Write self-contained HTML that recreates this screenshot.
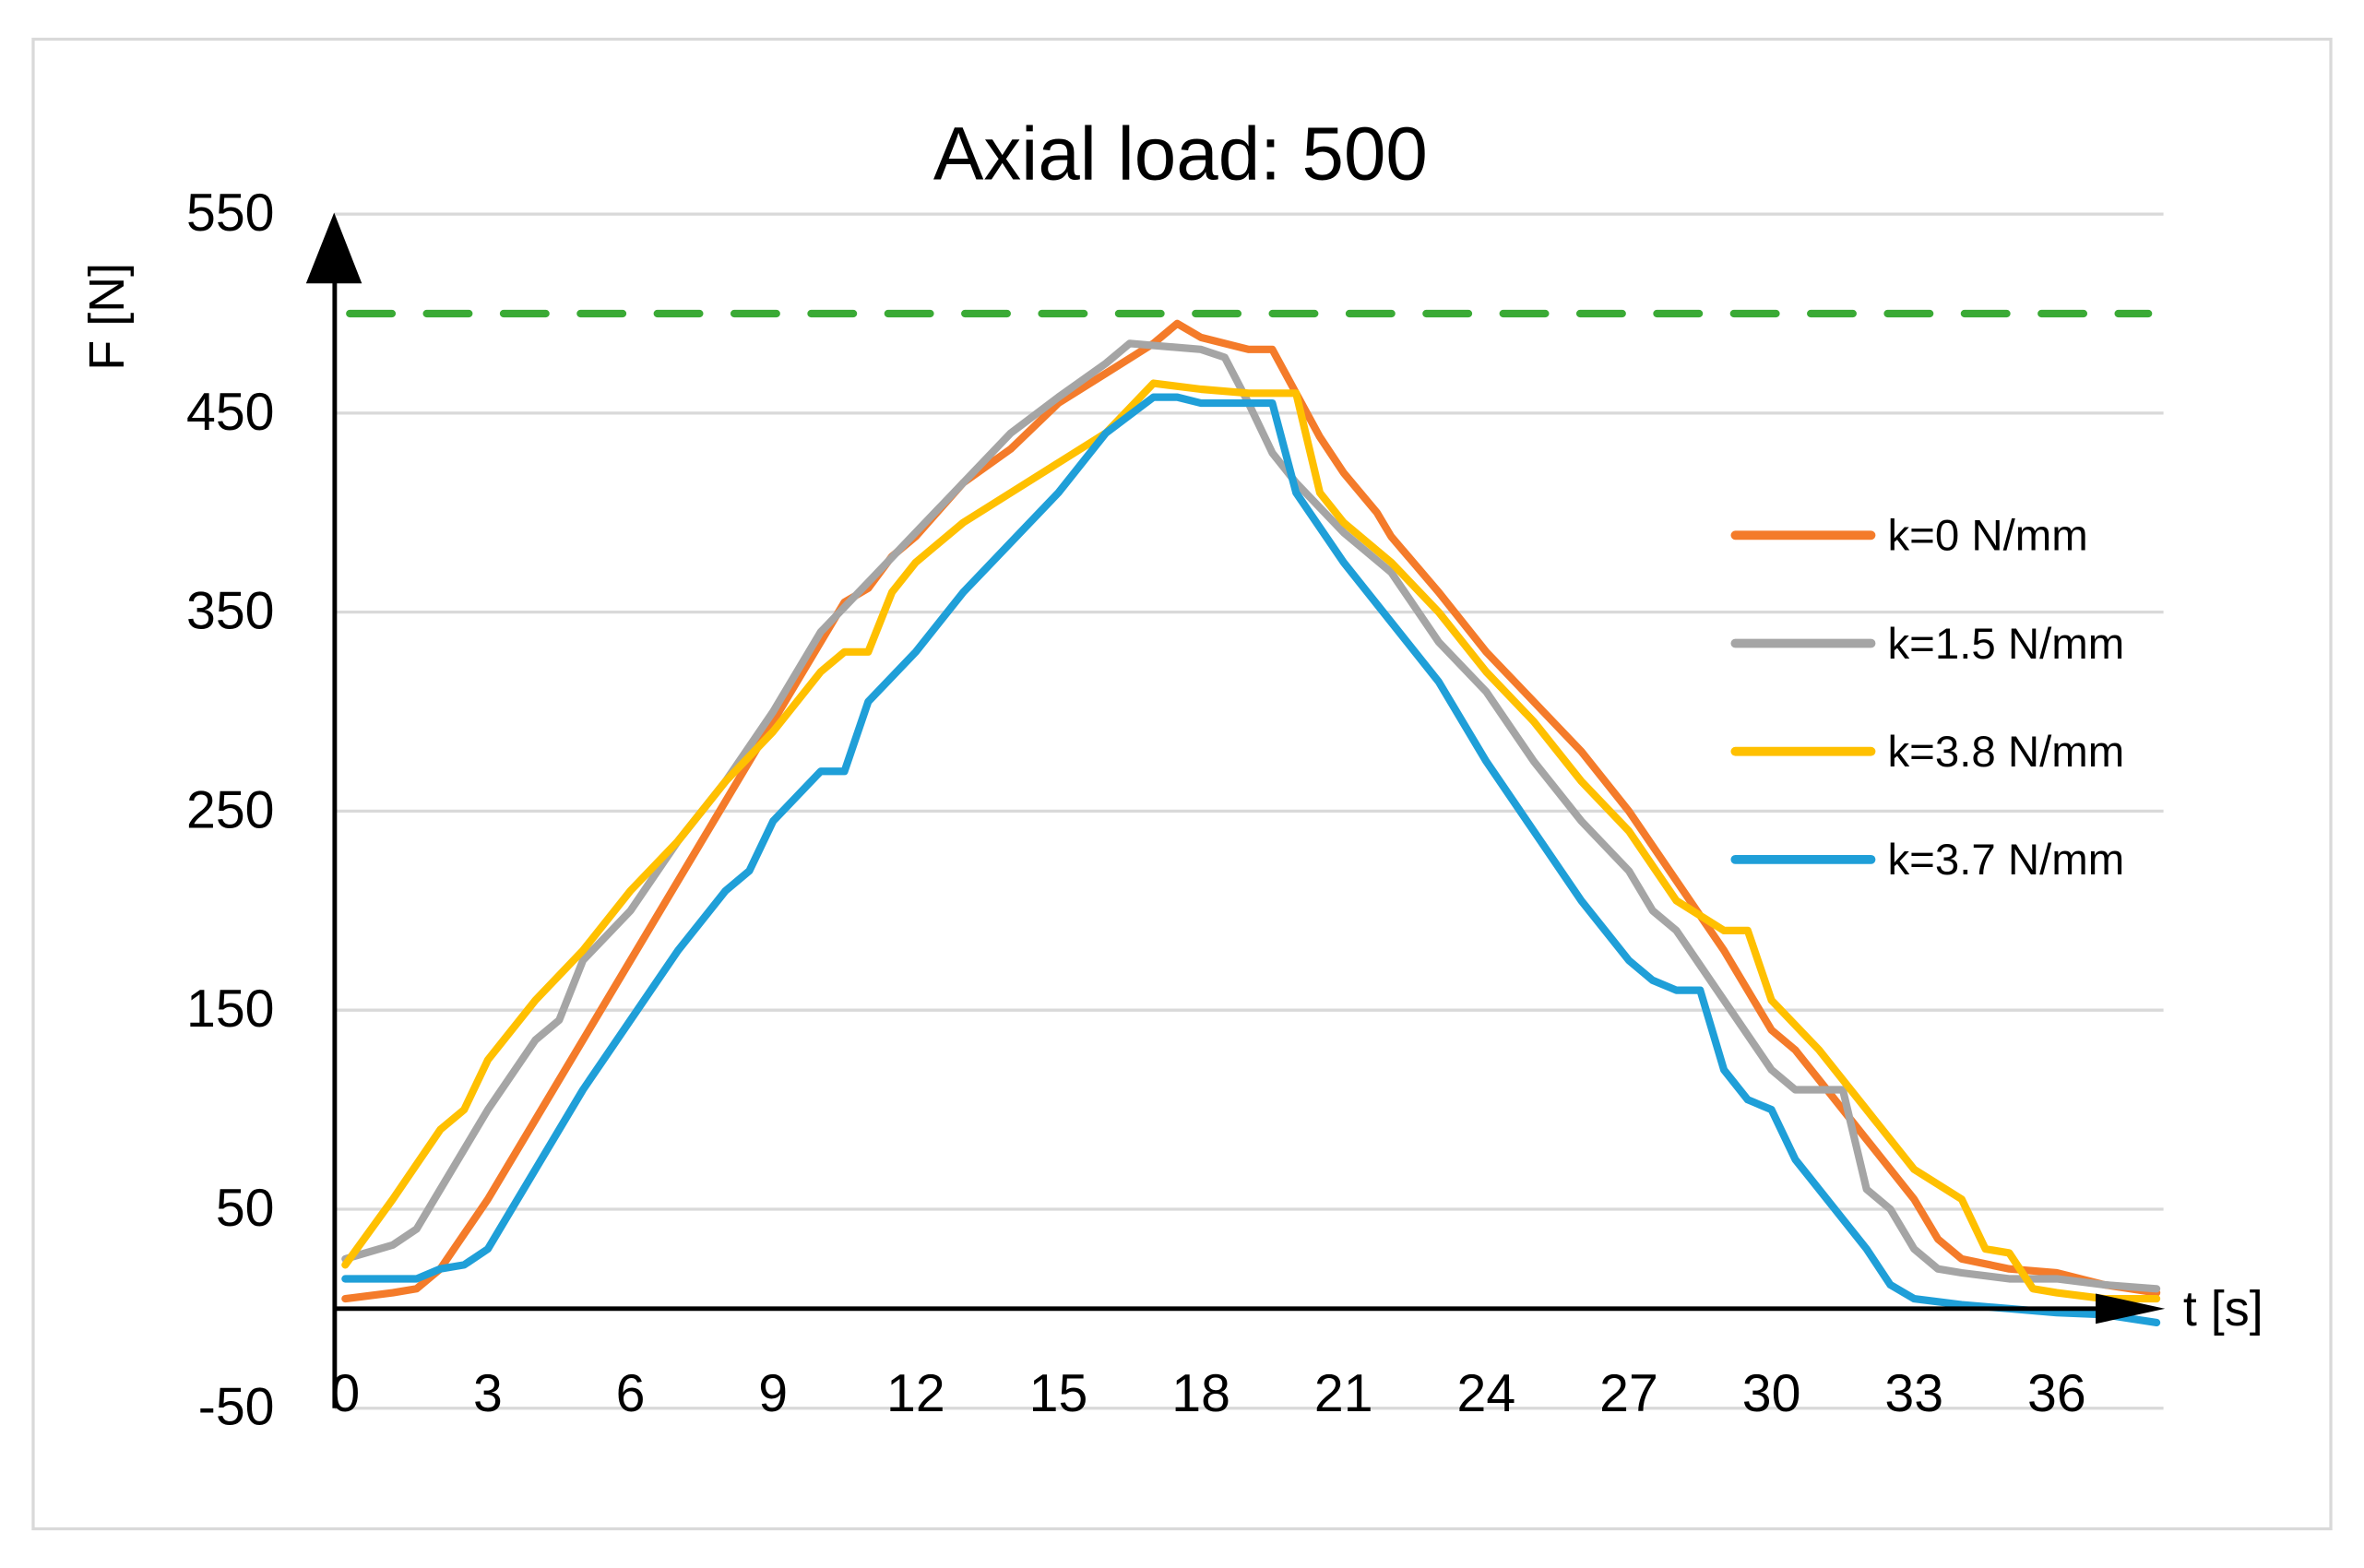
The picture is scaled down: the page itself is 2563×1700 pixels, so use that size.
<!DOCTYPE html>
<html><head><meta charset="utf-8"><style>
html,body{margin:0;padding:0;background:#fff;}
svg{display:block;font-family:"Liberation Sans","DejaVu Sans",sans-serif;}
</style></head><body>
<svg id="chart" width="2563" height="1700" viewBox="0 0 1568 1040" preserveAspectRatio="none" xmlns="http://www.w3.org/2000/svg">
<rect x="22" y="26" width="1524" height="988" fill="#fff" stroke="#d9d9d9" stroke-width="2"/>
<text x="783" y="119" font-size="50" text-anchor="middle" fill="#000">Axial load: 500</text>
<g id="grid"></g>
<g id="ticks"></g>
<line id="ref" x1="232" x2="1425" stroke="#3aaa35" stroke-width="5" stroke-dasharray="28 23" stroke-linecap="round"/>
<g id="series"></g>
<line x1="222" y1="180" x2="222" y2="934" stroke="#000" stroke-width="3"/>
<polygon points="221.6,141 203,188 240,188" fill="#000"/>
<line x1="222" y1="868" x2="1400" y2="868" stroke="#000" stroke-width="3"/>
<polygon points="1436,868 1390,858 1390,878" fill="#000"/>
<text transform="translate(82,210) rotate(-90)" font-size="33" text-anchor="middle">F [N]</text>
<text x="1448" y="879" font-size="33">t [s]</text>
<g id="legend"></g>
</svg>
<script>
const yTicks=[550,450,350,250,150,50,-50];
const xTicks=[0,3,6,9,12,15,18,21,24,27,30,33,36];
const refValue=500;
const seriesNames=["k=0 N/mm","k=1.5 N/mm","k=3.8 N/mm","k=3.7 N/mm"];
const seriesColors=["#f47b2a","#a5a5a5","#ffc000","#1f9fd8"];
const tOrange=[0,1,1.5,2,3,4,5,6,7,8,9,10,10.5,11,11.5,12,13,14,15,16,17,17.5,18,19,19.5,20,20.5,21,21.7,22,23,24,25,26,27,28,29,30,30.5,31,32,33,33.5,34,35,36,37,38.1];
const vOrange=[5,8,10,20,55,95,135,175,215,255,295,335,355,362,378,388,415,432,455,470,485,495,488,482,482,460,438,420,400,388,360,330,305,280,250,215,180,140,130,115,85,55,35,25,20,18,12,8];
const tGrey=[0,1,1.5,2,3,4,4.5,5,6,7,8,9,10,11,12,13,14,15,16,16.5,17,18,18.5,19,19.5,20,21,22,23,24,25,26,27,27.5,28,29,30,30.5,31.5,32,32.5,33,33.5,34,35,36,37,38.1];
const vGrey=[25,32,40,60,100,135,145,175,200,235,265,300,340,365,390,415,440,458,475,485,484,482,478,455,430,415,390,370,335,310,275,245,220,200,190,155,120,110,110,60,50,30,20,18,15,15,12,10];
const tYellow=[0,1,2,2.5,3,4,5,6,7,8,9,10,10.5,11,11.5,12,13,14,15,16,17,18,19,20,20.5,21,22,23,24,25,26,27,28,29,29.5,30,31,32,33,34,34.5,35,35.5,36,37,38.1];
const vYellow=[22,55,90,100,125,155,180,210,235,265,290,320,330,330,360,375,395,410,425,440,465,462,460,460,410,395,375,350,320,295,265,240,205,190,190,155,130,100,70,55,30,28,10,8,5,5];
const tBlue=[0,1,1.5,2,2.5,3,4,5,6,7,8,8.5,9,10,10.5,11,12,13,14,15,15.5,16,17,17.5,18,19,19.5,20,21,22,23,24,25,26,27,27.5,28,28.5,29,29.5,30,30.5,31,32,32.5,33,34,35,36,37,38.1];
const vBlue=[15,15,15,20,22,30,70,110,145,180,210,220,245,270,270,305,330,360,385,410,425,440,458,458,455,455,455,410,375,345,315,275,240,205,175,165,160,160,120,105,100,75,60,30,12,5,2,0,-2,-3,-7];
const ns="http://www.w3.org/2000/svg";
const X=t=>229+t*(94.6/3);
const Y=v=>868-v*1.32;
const grid=document.getElementById('grid'),ticks=document.getElementById('ticks');
yTicks.forEach(v=>{
  const l=document.createElementNS(ns,'line');
  
  
  l.setAttribute('x1',222);l.setAttribute('x2',1435);l.setAttribute('y1',Y(v));l.setAttribute('y2',Y(v));
  l.setAttribute('stroke','#d9d9d9');l.setAttribute('stroke-width','2');grid.appendChild(l);
  const t=document.createElementNS(ns,'text');
  
  
  t.setAttribute('x',182);t.setAttribute('y',Y(v)+11);t.setAttribute('font-size','35');t.setAttribute('text-anchor','end');
  t.textContent=v;ticks.appendChild(t);
});
xTicks.forEach(v=>{
  const t=document.createElementNS(ns,'text');
  
  
  t.setAttribute('x',X(v));t.setAttribute('y',936);t.setAttribute('font-size','35');t.setAttribute('text-anchor','middle');
  t.textContent=v;ticks.appendChild(t);
});
const ref=document.getElementById('ref');ref.setAttribute('y1',Y(refValue));ref.setAttribute('y2',Y(refValue));
const sg=document.getElementById('series'),lg=document.getElementById('legend');
const data=[[tOrange,vOrange],[tGrey,vGrey],[tYellow,vYellow],[tBlue,vBlue]];
data.forEach((d,i)=>{
  const p=document.createElementNS(ns,'polyline');
  
  
  p.setAttribute('points',d[0].map((t,j)=>X(t)+','+Y(d[1][j])).join(' '));
  p.setAttribute('fill','none');p.setAttribute('stroke',seriesColors[i]);p.setAttribute('stroke-width','5');p.setAttribute('stroke-linejoin','round');p.setAttribute('stroke-linecap','round');
  sg.appendChild(p);
  const y=355+i*71.7;
  const l=document.createElementNS(ns,'line');
  
  
  l.setAttribute('x1',1151);l.setAttribute('x2',1241);l.setAttribute('y1',y);l.setAttribute('y2',y);
  l.setAttribute('stroke',seriesColors[i]);l.setAttribute('stroke-width','6');l.setAttribute('stroke-linecap','round');lg.appendChild(l);
  const t=document.createElementNS(ns,'text');
  
  
  t.setAttribute('x',1252);t.setAttribute('y',y+10);t.setAttribute('font-size','29');
  t.textContent=seriesNames[i];lg.appendChild(t);
});
</script>
</body></html>
